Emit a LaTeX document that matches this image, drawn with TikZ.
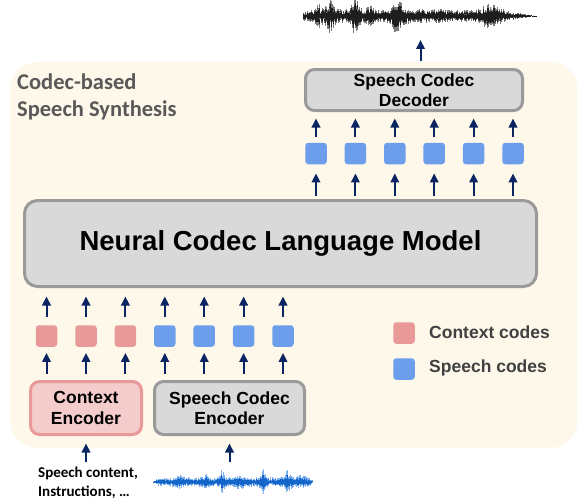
\documentclass[tikz,border=0pt]{standalone}
\usepackage{fontspec}
\setmainfont{Liberation Sans}
\newfontfamily\calib{Carlito}
\usetikzlibrary{arrows.meta}
\definecolor{panel}{HTML}{FEF8EA}
\definecolor{ctxfill}{HTML}{F4CCCC}
\definecolor{ctxdraw}{HTML}{EA9999}
\definecolor{codered}{HTML}{EA9999}
\definecolor{codeblue}{HTML}{6D9EEB}
\definecolor{boxfill}{HTML}{D9D9D9}
\definecolor{boxdraw}{HTML}{9A9A9A}
\definecolor{navy}{HTML}{0B2462}
\definecolor{titlegray}{HTML}{595959}
\definecolor{leggray}{HTML}{404040}
\definecolor{wavedark}{HTML}{1E1E1E}
\definecolor{wavelight}{HTML}{7A7A7A}
\definecolor{bluedark}{HTML}{1466C8}
\definecolor{bluelight}{HTML}{7DB0EC}
\tikzset{
  graybox/.style={draw=boxdraw, fill=boxfill, line width=3pt, rounded corners=9pt, align=center, inner sep=0pt,
    font=\bfseries\fontsize{17.5}{20.5}\selectfont},
  ctxbox/.style={graybox, draw=ctxdraw, fill=ctxfill},
  code/.style={minimum width=21.5pt, minimum height=21.5pt, inner sep=0pt, rounded corners=3pt},
  redcode/.style={code, fill=codered},
  bluecode/.style={code, fill=codeblue},
  arr/.style={navy, line width=2pt, -{Triangle[length=9pt,width=8.5pt]}},
  legtext/.style={anchor=west, inner sep=0pt, text=leggray, font=\bfseries\fontsize{17.5}{20.5}\selectfont},
}
\begin{document}
\begin{tikzpicture}[x=1pt, y=-1pt]
\useasboundingbox (0,0) rectangle (577,503);
% panel
\fill[panel, rounded corners=28pt] (10,62) rectangle (578,448);
% title
\node[anchor=west, align=left, inner sep=0pt, text=titlegray, font=\calib\bfseries\fontsize{22.5}{27}\selectfont] (title) at (17,96.5) {Codec-based\\Speech Synthesis};
% top waveform
\pgfmathsetseed{12}
\foreach \x in {303,303.7,...,537} {
  \pgfmathsetmacro\a{4+13/(1+((\x-330)/4)^2)+16/(1+((\x-355)/3)^2)+15/(1+((\x-397)/4)^2)+3/(1+((\x-430)/25)^2)+9/(1+((\x-490)/8)^2)+7/(1+((\x-318)/3)^2)+6/(1+((\x-370)/3)^2)}
  \pgfmathsetmacro\t{(\x>505) ? max(0,(538-\x)/33) : 1}
  \pgfmathsetmacro\u{\a*\t*(0.3+0.7*rnd)}
  \pgfmathsetmacro\d{\a*\t*(0.3+0.7*rnd)}
  \draw[wavelight, line width=0.7pt] (\x,16-\u) -- (\x,16+\d);
  \draw[wavedark, line width=0.7pt] (\x,16-0.7*\u) -- (\x,16+0.7*\d);
}
% bottom waveform
\pgfmathsetseed{5}
\foreach \x in {153,153.7,...,313} {
  \pgfmathsetmacro\a{4+10/(1+((\x-222)/1.5)^2)+11/(1+((\x-263)/1.5)^2)+8/(1+((\x-287)/2)^2)+6/(1+((\x-240)/2.5)^2)+4/(1+((\x-180)/3)^2)+5/(1+((\x-205)/2)^2)+3/(1+((\x-300)/8)^2)}
  \pgfmathsetmacro\t{(\x<158) ? (\x-152)/6 : ((\x>308) ? max(0,(314-\x)/6) : 1)}
  \pgfmathsetmacro\u{\a*\t*(0.4+0.6*rnd)}
  \pgfmathsetmacro\d{\a*\t*(0.4+0.6*rnd)}
  \draw[bluelight, line width=0.6pt] (\x,482-\u) -- (\x,482+\d);
  \draw[bluedark, line width=0.6pt] (\x,482-0.6*\u) -- (\x,482+0.6*\d);
}
% main boxes
\node[graybox, minimum width=217pt, minimum height=41pt] (dec) at (414,90) {Speech Codec\\Decoder};
\node[graybox, rounded corners=13pt, minimum width=512pt, minimum height=86pt, font=\bfseries\fontsize{27.5}{32}\selectfont] (lm) at (280.5,243.5) {Neural Codec Language Model};
\node[ctxbox, minimum width=111pt, minimum height=53pt] (ctx) at (86,408) {Context\\Encoder};
\node[graybox, minimum width=150pt, minimum height=53pt] (sce) at (229.5,408) {Speech Codec\\Encoder};
% codes above LM
\foreach \i/\x in {1/316,2/355.4,3/394.8,4/434.2,5/473.6,6/513} {
  \node[bluecode] (t\i) at (\x,153.5) {};
  \draw[arr, shorten <=6pt, shorten >=6.5pt] (t\i.north) -- (t\i.north |- dec.south);
  \draw[arr, shorten <=3pt, shorten >=9pt] (t\i.south |- lm.north) -- (t\i.south);
}
% codes below LM
\foreach \i/\x/\s/\src in {1/46.5/redcode/ctx,2/86/redcode/ctx,3/125.4/redcode/ctx,4/164.8/bluecode/sce,5/204.2/bluecode/sce,6/243.6/bluecode/sce,7/283/bluecode/sce} {
  \node[\s] (b\i) at (\x,336) {};
  \draw[arr, shorten <=8pt, shorten >=8.5pt] (b\i.north) -- (b\i.north |- lm.south);
  \draw[arr, shorten <=6.5pt, shorten >=6pt] (b\i.south |- \src.north) -- (b\i.south);
}
% output arrow
\coordinate (wout) at (420.5,40);
\draw[arr, shorten <=7.5pt] (wout |- dec.north) -- (wout);
% inputs
\node[anchor=west, align=left, inner sep=0pt, font=\calib\bfseries\fontsize{15}{19}\selectfont] (txt) at (38,482.5) {Speech content,\\Instructions, \dots};
\coordinate (cin) at (86,462);
\coordinate (win) at (229.5,462);
\draw[arr, shorten >=7.5pt] (cin) -- (cin |- ctx.south);
\draw[arr, shorten >=7.5pt] (win) -- (win |- sce.south);
% legend
\node[code, fill=codered] (lr) at (404,333) {};
\node[code, fill=codeblue] (lb) at (404,369) {};
\node[legtext] (lrt) at (429,332) {Context codes};
\node[legtext] (lbt) at (429,368) {Speech codes};
\end{tikzpicture}
\end{document}
